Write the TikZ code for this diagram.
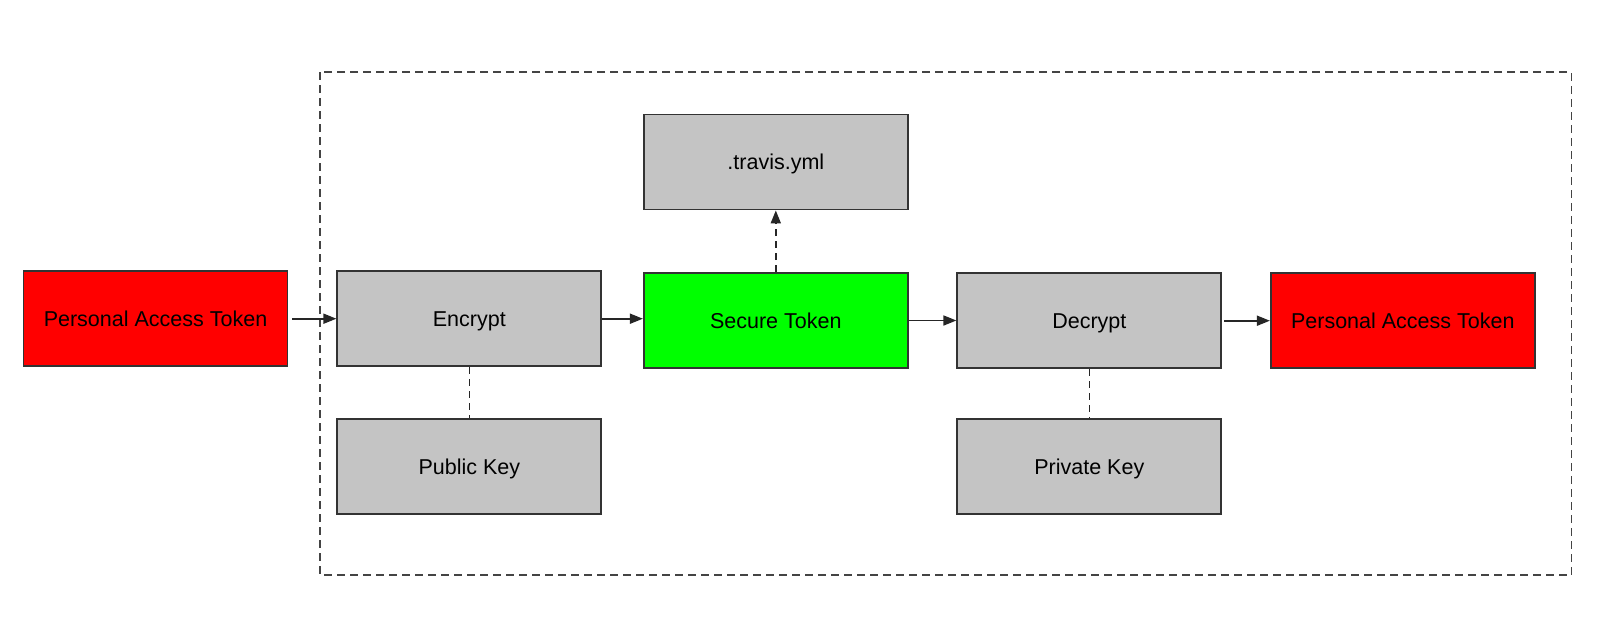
\documentclass[tikz,border=0pt]{standalone}
\usepackage{fontspec}
\setmainfont{Liberation Sans}
\usetikzlibrary{arrows.meta}
\definecolor{boxgray}{HTML}{C4C4C4}
\definecolor{edge}{HTML}{333333}
\definecolor{dashgray}{HTML}{444444}
\begin{document}
\begin{tikzpicture}[x=1pt,y=-1pt,
  box/.style={draw=edge, line width=1.8pt, minimum width=264pt, minimum height=95pt,
    inner sep=0pt, text height=15.4pt, text depth=0pt,
    font=\fontsize{21.5}{26}\selectfont, text=black},
  graybox/.style={box, fill=boxgray},
  redbox/.style={box, fill={rgb,255:red,255;green,0;blue,0}},
  greenbox/.style={box, fill={rgb,255:red,0;green,255;blue,0}},
  flow/.style={draw=black!85, line width=1.7pt, -{Triangle[length=13pt,width=10pt]}},
  dashflow/.style={flow, dash pattern=on 7pt off 5pt},
  link/.style={draw=black!85, line width=1.6pt, dash pattern=on 7pt off 5pt},
  frame/.style={draw=dashgray, line width=1.8pt, dash pattern=on 8pt off 5pt}
]
\useasboundingbox (0,0) rectangle (1624,640);
\draw[frame] (320,72) rectangle (1571.5,575);
\node[redbox] (redL) at (155.5,318.7) {Personal Access Token};
\node[graybox] (enc) at (469.3,318.7) {Encrypt};
\node[greenbox] (sec) at (775.8,320.5) {Secure Token};
\node[graybox] (dec) at (1089.3,320.7) {Decrypt};
\node[redbox] (redR) at (1402.8,320.8) {Personal Access Token};
\node[graybox] (travis) at (775.8,162) {.travis.yml};
\node[graybox] (pub) at (469.3,466.3) {Public Key};
\node[graybox] (priv) at (1089.3,466.3) {Private Key};
\draw[flow, shorten <=4pt] (redL.east) -- (redL.east -| enc.west);
\draw[flow] (enc.east) -- (enc.east -| sec.west);
\draw[flow] (sec.east) -- (sec.east -| dec.west);
\draw[flow, shorten <=2pt] (dec.east) -- (dec.east -| redR.west);
\draw[dashflow] (sec.north) -- (travis.south);
\draw[link] (enc.south) -- (pub.north);
\draw[link] (dec.south) -- (priv.north);
\end{tikzpicture}
\end{document}
